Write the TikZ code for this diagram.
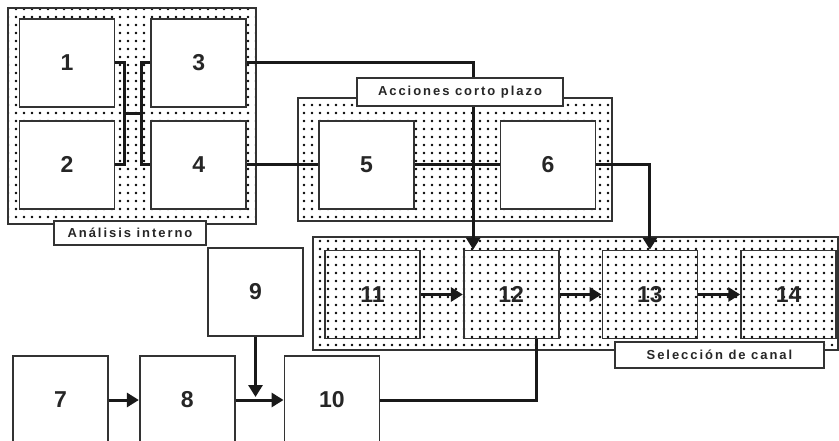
\documentclass[tikz,border=0pt]{standalone}
\usepackage{fontspec}
\setmainfont{Liberation Sans}
\newfontfamily\tagfont[LetterSpace=15]{Liberation Sans}
\usetikzlibrary{arrows.meta,positioning,patterns.meta,calc}

\begin{document}
\begin{tikzpicture}[x=1pt,y=-1pt,>={Triangle[length=12pt,width=14pt]},
                    blk/.style={draw=black!80,line width=1.7pt,minimum width=95pt,minimum height=88pt,
                                inner sep=0pt,font=\fontsize{23}{23}\selectfont\bfseries,text=black!85},
                    wblk/.style={blk,fill=white},
                    grp/.style={draw=black!80,line width=1.7pt,pattern={Dots[distance=8pt,radius=1.3pt]},pattern color=black},
                    tag/.style={draw=black!80,line width=1.7pt,fill=white,inner sep=0pt,
                                font=\tagfont\fontsize{13}{13}\selectfont\bfseries,text=black!85},
                    wire/.style={line width=3pt,black!90}]
            \clip (0,0) rectangle (839,441);

            \draw[grp] (8,8) rectangle (256,224);
            \draw[grp] (298,98) rectangle (612,221);
            \draw[grp] (313,237) rectangle (838,350);

            \node[wblk] (b1) at (67,63) {1};
            \node[wblk] (b2) [below=12pt of b1] {2};
            \node[wblk] (b3) [right=35pt of b1] {3};
            \node[wblk] (b4) [below=12pt of b3] {4};

            \node[wblk] (b5) [right=71pt of b4] {5};
            \node[wblk] (b6) [right=85pt of b5] {6};

            \node[blk] (b11) at (372.5,294.5) {11};
            \node[blk] (b12) [right=42pt of b11] {12};
            \node[blk] (b13) [right=42pt of b12] {13};
            \node[blk] (b14) [right=42pt of b13] {14};

            \node[wblk] (b9) at (255.5,292) {9};
            \node[wblk] (b7) at (60.5,400) {7};
            \node[wblk] (b8) [right=30pt of b7] {8};
            \node[wblk] (b10) [right=48pt of b8] {10};

            \coordinate (jm) at ($(b1.south)!0.5!(b2.north)$);
            \draw[wire] (b1.east) -- ++(9pt,0) coordinate (j1) |- (b2.east);
            \draw[wire] (b3.west) -- ++(-9pt,0) coordinate (j2) |- (b4.west);
            \draw[wire] (j1 |- jm) -- (j2 |- jm);

            \draw[wire,->] (b3.east) -| ([xshift=-38pt]b12.north);
            \draw[wire] (b4.east) -- (b5.west) (b5.east) -- (b6.west);
            \draw[wire,->] (b6.east) -| (b13.north);

            \foreach \a/\b in {b11/b12,b12/b13,b13/b14,b7/b8,b8/b10}
                \draw[wire,->] (\a) -- (\b);
            \draw[wire,->,shorten >=3pt] (b9) -- (b9 |- b10.west);
            \draw[wire] (b10.east) -| ([xshift=25pt]b12.south);

            \node[tag,minimum width=152pt,minimum height=24pt] (t1) at (130,233) {Análisis interno};
            \node[tag,minimum width=206pt,minimum height=28pt] (t2) at (460,92) {Acciones corto plazo};
            \node[tag,minimum width=209pt,minimum height=26pt] (t3) at (719.5,355) {Selección de canal};
        \end{tikzpicture}
\end{document}
